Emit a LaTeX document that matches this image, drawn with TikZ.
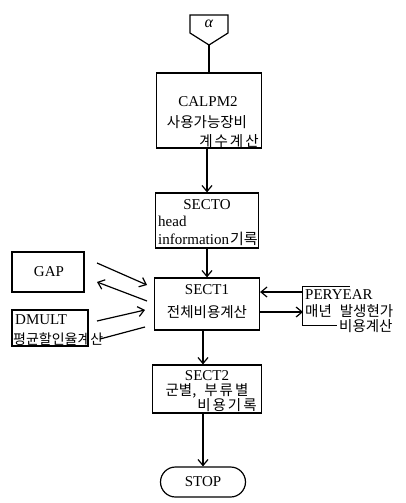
\documentclass[tikz,border=0pt]{standalone}
\usepackage{fontspec}
\setmainfont{Liberation Serif}
\newfontfamily\kr{Noto Sans CJK KR}
\usetikzlibrary{arrows.meta,shapes.misc}

\begin{document}
\begin{tikzpicture}[x=1pt,y=-1pt,
  box/.style={draw,line width=1.2pt,inner sep=0pt},
  lbl/.style={inner sep=0pt,font=\fontsize{15}{17}\selectfont},
  kor/.style={inner sep=0pt,font=\kr\fontsize{14.5}{16}\selectfont},
  flow/.style={line width=1.2pt},
  arr/.style={flow,-{Straight Barb[length=6pt,width=10pt,line width=1.2pt]}},
]
\useasboundingbox (0,0) rectangle (405,503);

% off-page connector
\draw[flow] (190,15) -- (228,15) -- (228,33) -- (209,45) -- (190,33) -- cycle;
\node[lbl,font=\fontsize{16}{18}\selectfont] (alpha) at (209,24) {\textit{α}};
\coordinate (alphatip) at (209,45);

% main column of process boxes
\node[box,minimum width=105pt,minimum height=75pt] (calpm) at (209,110.5) {};
\node[lbl] (calpmA) at (208,102) {CALPM2};
\node[kor] (calpmB) at (207,122) {사용가능장비};
\node[kor] (calpmC) at (229,141) {계\hspace{2pt}수\hspace{2pt}계\hspace{2pt}산};

\node[box,minimum width=103pt,minimum height=55pt] (secto) at (207,220.5) {};
\node[lbl] (sectoA) at (207,205) {SECTO};
\node[lbl,anchor=west] (sectoB) at (158,221) {head};
\node[lbl,anchor=west] (sectoC) at (158,239) {information{\kr\hspace{1pt}기록}};

\node[box,minimum width=105pt,minimum height=52pt] (sect1) at (207,304) {};
\node[lbl] (sect1A) at (207,290) {SECT1};
\node[kor] (sect1B) at (207,312) {전체비용계산};

\node[box,minimum width=109pt,minimum height=48pt] (sect2) at (207,389) {};
\node[lbl] (sect2A) at (207,376) {SECT2};
\node[kor] (sect2B) at (207,391) {군별,\hspace{8pt}부\hspace{2pt}류\hspace{2pt}별};
\node[kor] (sect2C) at (227,405) {비\hspace{2pt}용\hspace{2pt}기\hspace{2pt}록};

\node[draw,rounded rectangle,line width=1.2pt,inner sep=0pt,
      minimum width=85pt,minimum height=30pt,font=\fontsize{15}{17}\selectfont]
      (stop) at (203,482) {STOP};

% side routines
\node[box,minimum width=72pt,minimum height=40pt] (gap) at (48,272) {};
\node[lbl] (gapA) at (49,272) {GAP};

\node[box,minimum width=76pt,minimum height=36pt] (dmult) at (50,328) {};
\node[lbl,anchor=west] (dmultA) at (15,320) {DMULT};
\node[kor,anchor=west,font=\kr\fontsize{14}{16}\selectfont] (dmultB) at (13,339) {평균할인율계산};

\node[inner sep=0pt,minimum width=100pt,minimum height=38pt] (peryear) at (353,306) {};
\node[lbl,anchor=west] (peryearA) at (305,295) {PERYEAR};
\node[kor,anchor=west] (peryearB) at (305,311) {매년\hspace{8pt}발생현가};
\node[kor,anchor=west] (peryearC) at (339,326) {비용계산};
\draw[flow] ([xshift=47pt]peryear.north west) -- (peryear.north west)
  -- (peryear.south west) -- ([xshift=34pt]peryear.south west);

% flow of control
\draw[flow] (alphatip) -- (alphatip |- calpm.north);
\draw[arr] (calpm.south -| secto) -- (secto.north);
\draw[arr] (secto.south) -- (sect1.north);
\draw[arr] (sect1.south -| stop) -- (sect2.north -| stop);
\draw[arr] (sect2.south -| stop) -- (stop.north);

% calls to side routines
\coordinate (g1a) at (97,263);  \coordinate (g1b) at (147,285);
\coordinate (g2a) at (147,301); \coordinate (g2b) at (97,282);
\coordinate (d1a) at (97,321);  \coordinate (d1b) at (145,310);
\coordinate (d2a) at (100,339); \coordinate (d2b) at (145,327);
\draw[arr] (g1a) -- (g1b);
\draw[arr] (g2a) -- (g2b);
\draw[arr] (d1a) -- (d1b);
\draw[flow] (d2a) -- (d2b);

\coordinate (pin) at (303,292);
\coordinate (pout) at (303,312);
\draw[arr] (pin) -- (pin -| sect1.east);
\draw[arr] (pout -| sect1.east) -- (pout);
\end{tikzpicture}
\end{document}
